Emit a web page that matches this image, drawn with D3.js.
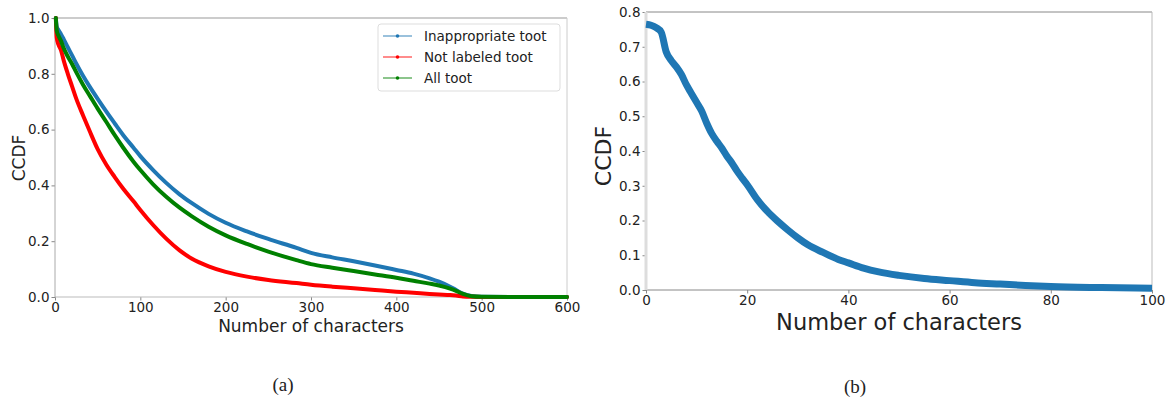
<!DOCTYPE html>
<html><head><meta charset="utf-8">
<script src="https://cdn.jsdelivr.net/npm/d3@7"></script>
<style>body{margin:0;background:#fff}svg{display:block}text{font-family:"DejaVu Sans",sans-serif;fill:#222}</style>
</head><body><svg id="c" width="1169" height="405"></svg>
<script>
// ---- Data: chart (a)
const aX = [1,2,4,7,10,15,20,25,33,41,50,60,70,80,92,100,115,130,146,160,180,200,225,250,283,300,325,350,375,400,420,439,450,463,470,478,488,500,550,600];
const inappropriate = [1.0,0.97,0.957,0.942,0.925,0.895,0.866,0.836,0.792,0.752,0.71,0.665,0.622,0.58,0.535,0.505,0.455,0.41,0.368,0.337,0.298,0.266,0.235,0.208,0.176,0.158,0.142,0.128,0.113,0.097,0.084,0.067,0.055,0.037,0.025,0.012,0.004,0.001,0,0];
const notLabeled = [1.0,0.93,0.905,0.885,0.85,0.8,0.755,0.71,0.65,0.592,0.53,0.475,0.43,0.388,0.343,0.312,0.258,0.21,0.167,0.138,0.11,0.09,0.073,0.061,0.05,0.044,0.037,0.031,0.025,0.019,0.015,0.011,0.009,0.007,0.005,0.002,0.0005,0,0,0];
const allToot = [1.0,0.955,0.937,0.918,0.893,0.862,0.835,0.805,0.76,0.72,0.675,0.628,0.58,0.535,0.485,0.455,0.404,0.36,0.32,0.29,0.252,0.221,0.19,0.163,0.132,0.118,0.105,0.093,0.081,0.069,0.058,0.048,0.041,0.03,0.022,0.011,0.003,0.001,0,0];
const aXTicks = [0,100,200,300,400,500,600];
const aYTicks = [0,0.2,0.4,0.6,0.8,1.0];
const legendLabels = ["Inappropriate toot","Not labeled toot","All toot"];

// ---- Data: chart (b)
const bX = [0,1,2,3,4,5,6,7,8,9,10,11,12,13,14,15,16,17,18,19,20,22,24,26,28,30,32,35,38,40,43,46,50,55,60,65,70,75,80,90,100];
const bY = [0.765,0.762,0.755,0.742,0.685,0.66,0.642,0.62,0.59,0.565,0.54,0.515,0.48,0.45,0.428,0.408,0.385,0.365,0.342,0.322,0.303,0.26,0.226,0.198,0.173,0.15,0.13,0.108,0.088,0.078,0.063,0.052,0.042,0.033,0.027,0.021,0.017,0.013,0.01,0.007,0.005];
const bXTicks = [0,20,40,60,80,100];
const bYTicks = [0,0.1,0.2,0.3,0.4,0.5,0.6,0.7,0.8];

const svg = d3.select("#c");

function panel(o){
  const g = svg.append("g");
  const x = d3.scaleLinear().domain(o.xd).range([o.l,o.r]);
  const y = d3.scaleLinear().domain(o.yd).range([o.b,o.t]);
  const xa = g.append("g").attr("transform",`translate(0,${o.b})`)
    .call(d3.axisBottom(x).tickValues(o.xt).tickFormat(d3.format("d")).tickSizeInner(3.5).tickSizeOuter(0).tickPadding(2));
  const ya = g.append("g").attr("transform",`translate(${o.l},0)`)
    .call(d3.axisLeft(y).tickValues(o.yt).tickFormat(d3.format(".1f")).tickSizeInner(3.5).tickSizeOuter(0).tickPadding(2));
  [xa,ya].forEach(a=>{a.select(".domain").remove();a.selectAll("line").attr("stroke","#888");
    a.selectAll("text").attr("font-size",o.tf).attr("fill","#222").style("font-family","DejaVu Sans");});
  const sp=(x1,y1,x2,y2,c,w)=>g.append("line").attr("x1",x1).attr("y1",y1).attr("x2",x2).attr("y2",y2).attr("stroke",c).attr("stroke-width",w||1);
  sp(o.l,o.t,o.r,o.t,o.sc.top);
  sp(o.r,o.t,o.r,o.b,o.sc.right);
  sp(o.l,o.b,o.r,o.b,o.sc.bottom,o.sc.bw||1);
  sp(o.l,o.t,o.l,o.b,o.sc.left,o.sc.lw||1);
  g.append("text").attr("x",(o.l+o.r)/2).attr("y",o.xlY).attr("text-anchor","middle").attr("font-size",o.lf).text("Number of characters");
  g.append("text").attr("transform",`translate(${o.ylX},${o.ylY}) rotate(-90)`).attr("text-anchor","middle").attr("font-size",o.ylf).text("CCDF");
  return {g,x,y};
}

// (a)
const A = panel({xd:[0,600],yd:[0,1],l:55,r:567,t:18,b:297,xt:aXTicks,yt:aYTicks,tf:13.5,lf:17,ylf:17,xlY:332,ylX:25,ylY:158,
  sc:{top:"#999",right:"#ccc",bottom:"#bbb",left:"#aaa"}});
const lineA = d3.line().x((d,i)=>A.x(aX[i])).y(d=>A.y(d)).curve(d3.curveMonotoneX);
const seriesA = [[inappropriate,"#1f77b4"],[notLabeled,"#ff0000"],[allToot,"#008000"]];
seriesA.forEach(([s,c])=>{
  A.g.append("path").datum(s).attr("d",lineA).attr("fill","none").attr("stroke",c).attr("stroke-width",4).attr("stroke-linejoin","round").attr("stroke-linecap","round");
});
const lg = A.g.append("g");
lg.append("rect").attr("x",378).attr("y",24).attr("width",182).attr("height",67).attr("rx",3).attr("fill","#fff").attr("fill-opacity",0.85).attr("stroke","#ddd");
legendLabels.forEach((t,i)=>{
  const yy = 36 + i*21, c = seriesA[i][1];
  lg.append("line").attr("x1",383).attr("x2",412).attr("y1",yy).attr("y2",yy).attr("stroke",c).attr("stroke-opacity",0.5).attr("stroke-width",1.8);
  lg.append("circle").attr("cx",397.5).attr("cy",yy).attr("r",1.8).attr("fill",c);
  lg.append("text").attr("x",424).attr("y",yy+5).attr("font-size",13.5).text(t);
});

// (b)
const B = panel({xd:[0,100],yd:[0,0.8],l:646,r:1152,t:12,b:290,xt:bXTicks,yt:bYTicks,tf:13.5,lf:22.5,ylf:22,xlY:330,ylX:611,ylY:156,
  sc:{top:"#888",right:"#bbb",bottom:"#888",left:"#ddd",lw:3}});
const lineB = d3.line().x((d,i)=>B.x(bX[i])).y(d=>B.y(d)).curve(d3.curveMonotoneX);
B.g.append("path").datum(bY).attr("d",lineB).attr("fill","none").attr("stroke","#1f77b4").attr("stroke-width",7).attr("stroke-linejoin","round");

svg.append("text").attr("x",283).attr("y",391).attr("text-anchor","middle").attr("font-size",19).style("font-family","Liberation Serif").text("(a)");
svg.append("text").attr("x",855).attr("y",393).attr("text-anchor","middle").attr("font-size",19).style("font-family","Liberation Serif").text("(b)");
</script></body></html>
